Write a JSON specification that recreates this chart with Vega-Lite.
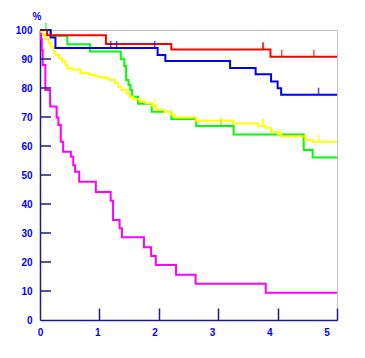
{
  "$schema": "https://vega.github.io/schema/vega-lite/v6.json",
  "autosize": {"type": "none"},
  "padding": {"left": 40, "top": 30, "right": 28, "bottom": 38},
  "width": 297,
  "height": 290,
  "config": {
    "view": {"stroke": "#c0c0c0", "strokeWidth": 1},
    "font": "Liberation Sans"
  },
  "datasets": {
    "curves": [
      {"series": "magenta", "t": 0, "v": 100}, {"series": "magenta", "t": 0.015, "v": 97}, {"series": "magenta", "t": 0.03, "v": 93}, {"series": "magenta", "t": 0.045, "v": 87.9}, {"series": "magenta", "t": 0.09, "v": 79.3}, {"series": "magenta", "t": 0.17, "v": 73.6}, {"series": "magenta", "t": 0.28, "v": 69.8}, {"series": "magenta", "t": 0.31, "v": 67.2}, {"series": "magenta", "t": 0.35, "v": 61.5}, {"series": "magenta", "t": 0.39, "v": 58}, {"series": "magenta", "t": 0.52, "v": 56.3}, {"series": "magenta", "t": 0.56, "v": 53.4}, {"series": "magenta", "t": 0.59, "v": 51.1}, {"series": "magenta", "t": 0.66, "v": 47.7}, {"series": "magenta", "t": 0.94, "v": 44.1}, {"series": "magenta", "t": 1.19, "v": 41.1}, {"series": "magenta", "t": 1.23, "v": 34.5}, {"series": "magenta", "t": 1.34, "v": 31.6}, {"series": "magenta", "t": 1.38, "v": 28.5}, {"series": "magenta", "t": 1.75, "v": 25.1}, {"series": "magenta", "t": 1.87, "v": 22.1}, {"series": "magenta", "t": 1.95, "v": 19.0}, {"series": "magenta", "t": 2.29, "v": 15.6}, {"series": "magenta", "t": 2.62, "v": 12.5}, {"series": "magenta", "t": 3.8, "v": 9.4}, {"series": "magenta", "t": 5, "v": 9.4},
      {"series": "green", "t": 0, "v": 100}, {"series": "green", "t": 0.18, "v": 98.0}, {"series": "green", "t": 0.46, "v": 95.1}, {"series": "green", "t": 0.84, "v": 92.6}, {"series": "green", "t": 1.36, "v": 89.9}, {"series": "green", "t": 1.42, "v": 87.6}, {"series": "green", "t": 1.45, "v": 82.8}, {"series": "green", "t": 1.49, "v": 81.0}, {"series": "green", "t": 1.52, "v": 79.3}, {"series": "green", "t": 1.55, "v": 77.0}, {"series": "green", "t": 1.65, "v": 74.6}, {"series": "green", "t": 1.88, "v": 71.8}, {"series": "green", "t": 2.21, "v": 69.3}, {"series": "green", "t": 2.63, "v": 66.9}, {"series": "green", "t": 3.26, "v": 64.0}, {"series": "green", "t": 4.44, "v": 58.6}, {"series": "green", "t": 4.59, "v": 56.0}, {"series": "green", "t": 5, "v": 56.0},
      {"series": "yellow", "t": 0, "v": 100}, {"series": "yellow", "t": 0.02, "v": 99.4}, {"series": "yellow", "t": 0.05, "v": 98.3}, {"series": "yellow", "t": 0.09, "v": 96.8}, {"series": "yellow", "t": 0.15, "v": 95.4}, {"series": "yellow", "t": 0.18, "v": 94.2}, {"series": "yellow", "t": 0.235, "v": 92.5}, {"series": "yellow", "t": 0.26, "v": 91.4}, {"series": "yellow", "t": 0.32, "v": 90.2}, {"series": "yellow", "t": 0.375, "v": 89.1}, {"series": "yellow", "t": 0.43, "v": 87.9}, {"series": "yellow", "t": 0.46, "v": 86.8}, {"series": "yellow", "t": 0.55, "v": 86.4}, {"series": "yellow", "t": 0.68, "v": 85.1}, {"series": "yellow", "t": 0.83, "v": 84.6}, {"series": "yellow", "t": 0.93, "v": 84.0}, {"series": "yellow", "t": 1.01, "v": 83.6}, {"series": "yellow", "t": 1.12, "v": 83.2}, {"series": "yellow", "t": 1.18, "v": 82.8}, {"series": "yellow", "t": 1.26, "v": 81.6}, {"series": "yellow", "t": 1.32, "v": 80.4}, {"series": "yellow", "t": 1.37, "v": 79.3}, {"series": "yellow", "t": 1.46, "v": 78.2}, {"series": "yellow", "t": 1.5, "v": 77.0}, {"series": "yellow", "t": 1.57, "v": 76.1}, {"series": "yellow", "t": 1.68, "v": 75.3}, {"series": "yellow", "t": 1.78, "v": 74.7}, {"series": "yellow", "t": 1.88, "v": 73.9}, {"series": "yellow", "t": 1.96, "v": 72.4}, {"series": "yellow", "t": 2.1, "v": 71.7}, {"series": "yellow", "t": 2.21, "v": 70.8}, {"series": "yellow", "t": 2.27, "v": 69.8}, {"series": "yellow", "t": 2.63, "v": 68.7}, {"series": "yellow", "t": 3.25, "v": 67.8}, {"series": "yellow", "t": 3.67, "v": 66.9}, {"series": "yellow", "t": 3.8, "v": 66.3}, {"series": "yellow", "t": 3.89, "v": 64.9}, {"series": "yellow", "t": 4.01, "v": 64.1}, {"series": "yellow", "t": 4.06, "v": 63.4}, {"series": "yellow", "t": 4.47, "v": 62.1}, {"series": "yellow", "t": 4.59, "v": 61.5}, {"series": "yellow", "t": 5, "v": 61.5},
      {"series": "blue", "t": 0, "v": 100}, {"series": "blue", "t": 0.18, "v": 97.4}, {"series": "blue", "t": 0.26, "v": 93.8}, {"series": "blue", "t": 1.98, "v": 91.4}, {"series": "blue", "t": 2.11, "v": 89.3}, {"series": "blue", "t": 3.2, "v": 86.9}, {"series": "blue", "t": 3.63, "v": 84.7}, {"series": "blue", "t": 3.89, "v": 82.2}, {"series": "blue", "t": 4.0, "v": 79.9}, {"series": "blue", "t": 4.06, "v": 77.7}, {"series": "blue", "t": 5, "v": 77.7},
      {"series": "red", "t": 0, "v": 100}, {"series": "red", "t": 0.12, "v": 98.2}, {"series": "red", "t": 1.11, "v": 95.2}, {"series": "red", "t": 2.21, "v": 93.3}, {"series": "red", "t": 3.88, "v": 90.8}, {"series": "red", "t": 5, "v": 90.8}
    ],
    "censor": [
      {"series": "green", "t": 0.1, "v": 100}, {"series": "green", "t": 3.05, "v": 66.9},
      {"series": "yellow", "t": 1.93, "v": 73.9}, {"series": "yellow", "t": 3.05, "v": 67.8}, {"series": "yellow", "t": 3.75, "v": 66.9}, {"series": "yellow", "t": 3.76, "v": 66.9}, {"series": "yellow", "t": 4.06, "v": 63.4}, {"series": "yellow", "t": 4.69, "v": 61.5},
      {"series": "blue", "t": 1.19, "v": 93.8}, {"series": "blue", "t": 1.29, "v": 93.8}, {"series": "blue", "t": 1.93, "v": 93.8}, {"series": "blue", "t": 4.69, "v": 77.7},
      {"series": "red", "t": 3.75, "v": 93.3}, {"series": "red", "t": 3.76, "v": 93.3}, {"series": "red", "t": 4.07, "v": 90.8}, {"series": "red", "t": 4.61, "v": 90.8}
    ],
    "yticks": [{"tv": 10}, {"tv": 20}, {"tv": 30}, {"tv": 40}, {"tv": 50}, {"tv": 60}, {"tv": 70}, {"tv": 80}, {"tv": 90}, {"tv": 100}],
    "xlabels": [{"lab": 0}, {"lab": 1}, {"lab": 2}, {"lab": 3}, {"lab": 4}, {"lab": 5}]
  },
  "layer": [
    {
      "layer": [
        {
          "data": {"name": "curves"},
          "mark": {"type": "line", "interpolate": "step-after", "strokeWidth": 2, "clip": false},
          "encoding": {
            "x": {"field": "t", "type": "quantitative", "scale": {"domain": [0, 5], "nice": false},
              "axis": {"orient": "bottom", "values": [1, 2, 3, 4, 5], "labels": false, "ticks": false, "title": null,
                "grid": true, "gridColor": "#1c1c84", "gridWidth": 1.5, "gridDash": [0, 278, 12, 1000], "gridOpacity": 1,
                "domainColor": "#1c1c84", "domainWidth": 1.5}},
            "y": {"field": "v", "type": "quantitative", "scale": {"domain": [0, 100], "nice": false},
              "axis": {"values": [0, 10, 20, 30, 40, 50, 60, 70, 80, 90, 100], "grid": false, "labelOverlap": false, "labelFlush": false, "ticks": false,
                "domainColor": "#1c1c84", "domainWidth": 1.5,
                "labelColor": "#0000ff", "labelFont": "Liberation Sans", "labelFontWeight": "bold", "labelFontSize": 10, "labelPadding": 8,
                "title": "%", "titleAngle": 0, "titleX": -3.5, "titleY": -14, "titleAlign": "center", "titleBaseline": "middle",
                "titleColor": "#0000ff", "titleFontSize": 10, "titleFontWeight": "bold", "titleFont": "Liberation Sans"}},
            "color": {"field": "series", "type": "nominal",
              "scale": {"domain": ["magenta", "green", "yellow", "blue", "red"], "range": ["#ff00ff", "#00ff00", "#ffff00", "#0000ff", "#ff0000"]},
              "legend": null}
          }
        },
        {
          "data": {"name": "censor"},
          "mark": {"type": "tick", "orient": "vertical", "thickness": 1.5, "size": 7, "yOffset": -3.5, "clip": false},
          "encoding": {
            "x": {"field": "t", "type": "quantitative", "scale": {"domain": [0, 5], "nice": false},
              "axis": {"orient": "bottom", "values": [1, 2, 3, 4, 5], "labels": false, "ticks": false, "title": null,
                "grid": true, "gridColor": "#1c1c84", "gridWidth": 1.5, "gridDash": [0, 278, 12, 1000], "gridOpacity": 1,
                "domainColor": "#1c1c84", "domainWidth": 1.5}},
            "y": {"field": "v", "type": "quantitative", "scale": {"domain": [0, 100], "nice": false},
              "axis": {"values": [0, 10, 20, 30, 40, 50, 60, 70, 80, 90, 100], "grid": false, "labelOverlap": false, "labelFlush": false, "ticks": false,
                "domainColor": "#1c1c84", "domainWidth": 1.5,
                "labelColor": "#0000ff", "labelFont": "Liberation Sans", "labelFontWeight": "bold", "labelFontSize": 10, "labelPadding": 8,
                "title": "%", "titleAngle": 0, "titleX": -3.5, "titleY": -14, "titleAlign": "center", "titleBaseline": "middle",
                "titleColor": "#0000ff", "titleFontSize": 10, "titleFontWeight": "bold", "titleFont": "Liberation Sans"}},
            "color": {"field": "series", "type": "nominal", "legend": null}
          }
        },
        {
          "data": {"name": "yticks"},
          "mark": {"type": "rule", "strokeWidth": 1.5, "stroke": "#1c1c84", "clip": false},
          "encoding": {
            "x": {"datum": 0, "type": "quantitative", "scale": {"domain": [0, 5], "nice": false},
              "axis": {"orient": "bottom", "values": [1, 2, 3, 4, 5], "labels": false, "ticks": false, "title": null,
                "grid": true, "gridColor": "#1c1c84", "gridWidth": 1.5, "gridDash": [0, 278, 12, 1000], "gridOpacity": 1,
                "domainColor": "#1c1c84", "domainWidth": 1.5}},
            "x2": {"datum": 0.185},
            "y": {"field": "tv", "type": "quantitative", "scale": {"domain": [0, 100], "nice": false},
              "axis": {"values": [0, 10, 20, 30, 40, 50, 60, 70, 80, 90, 100], "grid": false, "labelOverlap": false, "labelFlush": false, "ticks": false,
                "domainColor": "#1c1c84", "domainWidth": 1.5,
                "labelColor": "#0000ff", "labelFont": "Liberation Sans", "labelFontWeight": "bold", "labelFontSize": 10, "labelPadding": 8,
                "title": "%", "titleAngle": 0, "titleX": -3.5, "titleY": -14, "titleAlign": "center", "titleBaseline": "middle",
                "titleColor": "#0000ff", "titleFontSize": 10, "titleFontWeight": "bold", "titleFont": "Liberation Sans"}}
          }
        }
      ]
    },
    {
      "data": {"name": "xlabels"},
      "mark": {"type": "point", "opacity": 0},
      "encoding": {
        "x": {"field": "lab", "type": "quantitative", "scale": {"domain": [0, 5.183], "nice": false, "zero": false},
          "axis": {"orient": "bottom", "values": [0, 1, 2, 3, 4, 5], "domain": false, "ticks": false, "grid": false, "title": null, "labelOverlap": false, "labelFlush": false, "labelDx": -1,
            "labelColor": "#0000ff", "labelFont": "Liberation Sans", "labelFontWeight": "bold", "labelFontSize": 10, "labelPadding": 7}}
      }
    }
  ],
  "resolve": {"scale": {"x": "independent"}, "axis": {"x": "independent"}}
}
